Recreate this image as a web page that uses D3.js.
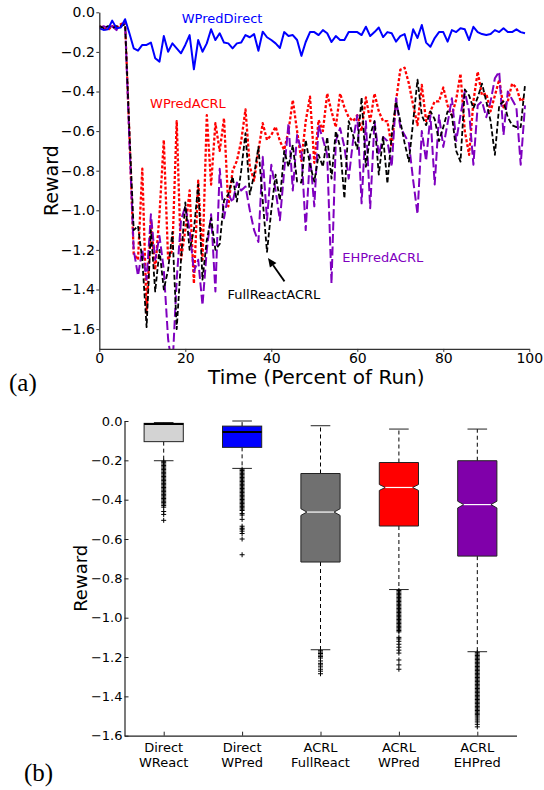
<!DOCTYPE html>
<html><head><meta charset="utf-8">
<script src="https://cdn.jsdelivr.net/npm/d3@7"></script>
<style>
body{margin:0;background:#fff}
svg{display:block}
text{font-family:"DejaVu Sans",sans-serif}
text.serif{font-family:"Liberation Serif","DejaVu Serif",serif}
</style>
</head><body>
<svg id="c" width="544" height="790"></svg>
<script>
// ---------------- DATA (top panel: reward per percent of run, 0..99) ----------------
const wpredDirect = [-0.081,-0.089,-0.086,-0.042,-0.081,-0.077,-0.035,-0.106,-0.182,-0.194,
 -0.165,-0.165,-0.153,-0.232,-0.249,-0.12,-0.199,-0.157,-0.182,-0.207,
 -0.165,-0.115,-0.288,-0.14,-0.199,-0.157,-0.086,-0.14,-0.106,-0.153,
 -0.157,-0.182,-0.157,-0.153,-0.115,-0.126,-0.11,-0.194,-0.098,-0.126,
 -0.14,-0.157,-0.18,-0.10,-0.12,-0.115,-0.14,-0.22,-0.15,-0.10,
 -0.10,-0.115,-0.09,-0.106,-0.15,-0.12,-0.14,-0.14,-0.10,-0.10,
 -0.10,-0.115,-0.073,-0.12,-0.10,-0.077,-0.125,-0.10,-0.106,-0.148,
 -0.12,-0.11,-0.187,-0.086,-0.13,-0.064,-0.153,-0.174,-0.13,-0.10,
 -0.10,-0.148,-0.09,-0.10,-0.081,-0.086,-0.14,-0.073,-0.10,-0.11,
 -0.115,-0.11,-0.09,-0.10,-0.081,-0.10,-0.10,-0.086,-0.10,-0.106];
const wpredACRL = [-0.07,-0.08,-0.09,-0.07,-0.08,-0.06,-0.05,-0.62,-1.22,-1.25,
 -0.79,-1.52,-1.05,-1.30,-1.02,-0.645,-1.25,-1.2,-0.55,-1.25,
 -1.1,-0.9,-1.37,-0.85,-1.25,-0.52,-0.87,-0.56,-0.7,-0.535,
 -0.98,-0.8,-0.75,-0.65,-0.49,-0.78,-0.85,-0.70,-0.56,-0.645,
 -0.62,-0.578,-0.65,-0.695,-0.6,-0.443,-0.6,-0.75,-0.55,-0.426,
 -0.76,-0.544,-0.6,-0.41,-0.5,-0.58,-0.41,-0.48,-0.53,-0.55,
 -0.52,-0.6,-0.43,-0.55,-0.41,-0.5,-0.55,-0.55,-0.68,-0.45,
 -0.29,-0.28,-0.36,-0.47,-0.57,-0.367,-0.55,-0.5,-0.45,-0.45,
 -0.38,-0.47,-0.52,-0.44,-0.31,-0.6,-0.72,-0.45,-0.30,-0.42,
 -0.41,-0.5,-0.42,-0.34,-0.48,-0.45,-0.36,-0.38,-0.45,-0.43];
const fullReactACRL = [-0.07,-0.08,-0.07,-0.08,-0.07,-0.07,-0.06,-0.6,-1.1,-1.08,
 -1.25,-1.59,-1.1,-1.41,-1.2,-1.4,-1.3,-1.11,-1.6,-1.25,
 -0.96,-1.2,-1.1,-0.87,-1.35,-1.15,-1.04,-1.2,-1.17,-0.95,
 -0.92,-0.83,-0.956,-0.8,-0.61,-0.92,-0.82,-0.68,-0.95,-1.21,
 -1.0,-0.82,-0.95,-0.70,-0.78,-0.67,-0.855,-0.86,-0.645,-0.77,
 -0.855,-0.72,-0.78,-0.63,-0.84,-0.60,-0.68,-0.94,-0.55,-0.62,
 -0.69,-0.43,-0.78,-0.62,-0.55,-0.82,-0.63,-0.865,-0.62,-0.45,
 -0.55,-0.66,-0.754,-0.55,-0.34,-0.52,-0.57,-0.5,-0.54,-0.65,
 -0.58,-0.5,-0.52,-0.70,-0.754,-0.39,-0.42,-0.485,-0.43,-0.36,
 -0.45,-0.55,-0.72,-0.47,-0.45,-0.53,-0.57,-0.58,-0.58,-0.367];
const ehPredACRL = [-0.08,-0.07,-0.08,-0.07,-0.09,-0.07,-0.05,-0.65,-1.2,-1.33,
 -1.2,-1.35,-1.02,-1.25,-1.13,-1.3,-1.65,-1.8,-1.35,-1.05,
 -0.98,-1.1,-1.31,-1.25,-1.48,-1.2,-1.02,-1.41,-0.79,-1.04,
 -0.92,-0.96,-0.86,-0.9,-0.88,-1.0,-1.1,-1.16,-0.73,-1.05,
 -0.77,-0.9,-1.05,-0.8,-0.56,-0.9,-0.62,-0.7,-1.1,-0.72,
 -0.98,-0.57,-0.64,-0.72,-1.37,-0.65,-0.585,-0.68,-0.84,-0.65,
 -0.52,-0.965,-0.55,-0.99,-0.55,-0.72,-0.63,-0.65,-0.78,-0.434,
 -0.58,-0.62,-0.66,-0.85,-1.02,-0.6,-0.75,-0.52,-0.87,-0.52,
 -0.68,-0.56,-0.434,-0.65,-0.52,-0.4,-0.5,-0.77,-0.47,-0.45,
 -0.53,-0.45,-0.333,-0.3,-0.62,-0.4,-0.44,-0.48,-0.77,-0.47];
const topYTicks = [0,-0.2,-0.4,-0.6,-0.8,-1.0,-1.2,-1.4,-1.6];
const topXTicks = [0,20,40,60,80,100];

// ---------------- DATA (bottom panel: box plots) ----------------
const boxLine1 = ["Direct","Direct","ACRL","ACRL","ACRL"];
const boxLine2 = ["WReact","WPred","FullReact","WPred","EHPred"];
const boxQ1  = [-0.105,-0.134,-0.717,-0.534,-0.687];
const boxMed = [-0.015,-0.056,-0.463,-0.338,-0.425];
const boxQ3  = [-0.012,-0.026,-0.267,-0.211,-0.202];
const whiskLo = [-0.202,-0.241,-1.163,-0.857,-1.173];
const whiskHi = [-0.008,0.0,-0.024,-0.041,-0.041];
const notchHalf = [0,0,0.017,0.015,0.017];
const fliers1 = [-0.205,-0.212,-0.219,-0.226,-0.233,-0.24,-0.247,-0.254,-0.261,-0.268,-0.275,-0.282,-0.289,-0.296,-0.303,-0.31,-0.317,-0.324,-0.331,-0.338,-0.345,-0.352,-0.359,-0.366,-0.373,-0.38,-0.387,-0.394,-0.401,-0.408,-0.415,-0.422,-0.43,-0.438,-0.46,-0.475,-0.505];
const fliers2 = [-0.245,-0.252,-0.259,-0.266,-0.273,-0.28,-0.287,-0.294,-0.301,-0.308,-0.315,-0.322,-0.329,-0.336,-0.343,-0.35,-0.357,-0.364,-0.371,-0.378,-0.385,-0.392,-0.399,-0.406,-0.413,-0.42,-0.427,-0.434,-0.441,-0.448,-0.455,-0.47,-0.478,-0.5,-0.535,-0.545,-0.55,-0.56,-0.572,-0.6,-0.68];
const fliers3 = [-1.168,-1.175,-1.182,-1.19,-1.197,-1.205,-1.22,-1.232,-1.24,-1.25,-1.262,-1.272,-1.285];
const fliers4 = [-0.862,-0.869,-0.876,-0.883,-0.89,-0.897,-0.904,-0.911,-0.918,-0.925,-0.932,-0.939,-0.946,-0.953,-0.96,-0.967,-0.974,-0.981,-0.988,-0.995,-1.002,-1.009,-1.016,-1.023,-1.03,-1.037,-1.044,-1.051,-1.058,-1.065,-1.072,-1.1,-1.108,-1.12,-1.135,-1.15,-1.165,-1.18,-1.215,-1.24,-1.262];
const fliers5 = [-1.178,-1.185,-1.192,-1.199,-1.206,-1.213,-1.22,-1.227,-1.234,-1.241,-1.248,-1.255,-1.262,-1.269,-1.276,-1.283,-1.29,-1.297,-1.304,-1.311,-1.318,-1.325,-1.332,-1.339,-1.346,-1.353,-1.36,-1.367,-1.374,-1.381,-1.388,-1.395,-1.402,-1.409,-1.416,-1.423,-1.43,-1.437,-1.444,-1.451,-1.458,-1.465,-1.472,-1.479,-1.486,-1.493,-1.5,-1.51,-1.52,-1.53,-1.542,-1.555];
const bottomYTicks = [0,-0.2,-0.4,-0.6,-0.8,-1.0,-1.2,-1.4,-1.6];

// ---------------- DRAW ----------------
const svg = d3.select("#c");
const fmt = d3.format(".1f");

// ===== Top panel =====
const x = d3.scaleLinear([0,100],[99.3,529.3]);
const y = d3.scaleLinear([-1.7,0],[348.9,12.3]);

svg.append("defs").append("clipPath").attr("id","clipTop")
  .append("rect").attr("x",x(0)).attr("y",0).attr("width",x(100)-x(0)).attr("height",y(-1.7));

const line = d3.line().x((d,i)=>x(i)).y(d=>y(d));
const gLines = svg.append("g").attr("clip-path","url(#clipTop)").attr("fill","none");
const series = [
  {d:wpredACRL, c:"#ff0000", w:2.3, dash:"3,2"},
  {d:ehPredACRL, c:"#7f00bf", w:2.0, dash:"9,3.5"},
  {d:fullReactACRL, c:"#000000", w:1.8, dash:"5,2.5"},
  {d:wpredDirect, c:"#0000ff", w:2.0, dash:null}
];
series.forEach(s=>{
  gLines.append("path").attr("d",line(s.d)).attr("stroke",s.c)
    .attr("stroke-width",s.w).attr("stroke-dasharray",s.dash)
    .attr("stroke-linejoin","round");
});

const axL = svg.append("g").attr("transform",`translate(${x(0)},0)`)
  .call(d3.axisLeft(y).tickValues(topYTicks).tickFormat(fmt).tickSize(3).tickPadding(1.5).tickSizeOuter(0));
const axB = svg.append("g").attr("transform",`translate(0,${y(-1.7)})`)
  .call(d3.axisBottom(x).tickValues(topXTicks).tickFormat(d3.format("d")).tickSize(3).tickPadding(1.5).tickSizeOuter(0));
[axL,axB].forEach(a=>{
  a.select(".domain").attr("stroke","#333").attr("stroke-width",1.3);
  a.selectAll(".tick line").attr("stroke","#333");
  a.selectAll(".tick text").attr("font-size",14).attr("fill","#000");
});

svg.append("text").attr("transform",`translate(58,${(y(0)+y(-1.7))/2}) rotate(-90)`)
  .attr("text-anchor","middle").attr("font-size",19).text("Reward");
svg.append("text").attr("x",(x(0)+x(100))/2+2).attr("y",384)
  .attr("text-anchor","middle").attr("font-size",20).text("Time (Percent of Run)");

// annotations
const ann = [
  {t:"WPredDirect", xv:19.16, yv:-0.0556, c:"#0000ff"},
  {t:"WPredACRL", xv:11.8, yv:-0.485, c:"#ff0000"},
  {t:"FullReactACRL", xv:29.8, yv:-1.448, c:"#000000"},
  {t:"EHPredACRL", xv:56.5, yv:-1.26, c:"#7f00bf"}
];
ann.forEach(a=>svg.append("text").attr("x",x(a.xv)).attr("y",y(a.yv))
  .attr("font-size",13).attr("fill",a.c).text(a.t));

// arrow pointing to FullReactACRL dip at t=39
const tipX = x(39)+1, tipY = y(fullReactACRL[39])+6;
const tailX = tipX+16.5, tailY = tipY+23.5;
const len = Math.hypot(tailX-tipX, tailY-tipY);
const ux = (tipX-tailX)/len, uy = (tipY-tailY)/len;
const hl = 9, hw = 4;
const bx = tipX-ux*hl, by = tipY-uy*hl;
svg.append("line").attr("x1",tailX).attr("y1",tailY).attr("x2",bx).attr("y2",by)
  .attr("stroke","#000").attr("stroke-width",1.8);
svg.append("path").attr("d",`M${tipX},${tipY}L${bx-uy*hw},${by+ux*hw}L${bx+uy*hw},${by-ux*hw}Z`)
  .attr("fill","#000");

svg.append("text").attr("class","serif").attr("x",9).attr("y",391)
  .attr("font-size",25).text("(a)");

// ===== Bottom panel =====
const xb = d3.scaleLinear([0.5,5.5],[124.5,516.5]);
const yb = d3.scaleLinear([-1.6,0],[735.7,421]);
const boxColors = ["#d3d3d3","#0000ff","#707070","#ff0000","#8000aa"];
const fliers = [fliers1,fliers2,fliers3,fliers4,fliers5];
const halfW = (xb(1.25)-xb(1));   // box half width (width 0.5)
const capHalf = halfW/2;

const gb = svg.append("g");
boxQ1.forEach((q1,i)=>{
  const cx = xb(i+1);
  const g = gb.append("g");
  g.append("line").attr("x1",cx).attr("x2",cx).attr("y1",yb(boxQ3[i])).attr("y2",yb(whiskHi[i]))
    .attr("stroke","#000").attr("stroke-dasharray","4,3");
  g.append("line").attr("x1",cx).attr("x2",cx).attr("y1",yb(q1)).attr("y2",yb(whiskLo[i]))
    .attr("stroke","#000").attr("stroke-dasharray","4,3");
  [whiskHi[i],whiskLo[i]].forEach(v=>g.append("line").attr("x1",cx-capHalf).attr("x2",cx+capHalf)
    .attr("y1",yb(v)).attr("y2",yb(v)).attr("stroke","#222").attr("stroke-width",1));
  const L = cx-halfW, R = cx+halfW;
  if (notchHalf[i]>0){
    const nin = 6;
    const nlo = yb(boxMed[i]-notchHalf[i]), nhi = yb(boxMed[i]+notchHalf[i]), m = yb(boxMed[i]);
    const d = `M${L},${yb(q1)}L${R},${yb(q1)}L${R},${nlo}L${R-nin},${m}L${R},${nhi}L${R},${yb(boxQ3[i])}`+
        `L${L},${yb(boxQ3[i])}L${L},${nhi}L${L+nin},${m}L${L},${nlo}Z`;
    g.append("path").attr("d",d).attr("fill",boxColors[i]).attr("stroke","#222").attr("stroke-width",1);
    g.append("line").attr("x1",L+nin).attr("x2",R-nin).attr("y1",m).attr("y2",m)
      .attr("stroke","#fff").attr("stroke-width",1.2);
  } else {
    g.append("rect").attr("x",L).attr("y",yb(boxQ3[i])).attr("width",2*halfW)
      .attr("height",yb(q1)-yb(boxQ3[i])).attr("fill",boxColors[i]).attr("stroke","#222").attr("stroke-width",1);
    g.append("line").attr("x1",L).attr("x2",R).attr("y1",yb(boxMed[i])).attr("y2",yb(boxMed[i]))
      .attr("stroke","#000").attr("stroke-width",2);
  }
  g.selectAll(".fl").data(fliers[i]).join("path")
    .attr("d",v=>`M${cx-2.5},${yb(v)}H${cx+2.5}M${cx},${yb(v)-2.5}V${yb(v)+2.5}`)
    .attr("stroke","#000").attr("stroke-width",1).attr("fill","none");
});

const bL = svg.append("g").attr("transform",`translate(${xb(0.5)},0)`)
  .call(d3.axisLeft(yb).tickValues(bottomYTicks).tickFormat(fmt).tickSize(-4).tickPadding(2).tickSizeOuter(0));
const bB = svg.append("g").attr("transform",`translate(0,${yb(-1.6)})`)
  .call(d3.axisBottom(xb).tickValues([1,2,3,4,5]).tickFormat("").tickSize(-4).tickSizeOuter(0));
[bL,bB].forEach(a=>{
  a.select(".domain").attr("stroke","#222").attr("stroke-width",1.2);
  a.selectAll(".tick line").attr("stroke","#222");
  a.selectAll(".tick text").attr("font-size",13).attr("fill","#000");
});
boxLine1.forEach((t,i)=>{
  const tx = svg.append("text").attr("x",xb(i+1)).attr("text-anchor","middle").attr("font-size",13);
  tx.append("tspan").attr("x",xb(i+1)).attr("y",751.5).text(t);
  tx.append("tspan").attr("x",xb(i+1)).attr("y",766.5).text(boxLine2[i]);
});
svg.append("text").attr("transform",`translate(87,${(yb(0)+yb(-1.6))/2}) rotate(-90)`)
  .attr("text-anchor","middle").attr("font-size",18).text("Reward");
svg.append("text").attr("class","serif").attr("x",24).attr("y",781)
  .attr("font-size",25).text("(b)");
</script>
</body></html>
